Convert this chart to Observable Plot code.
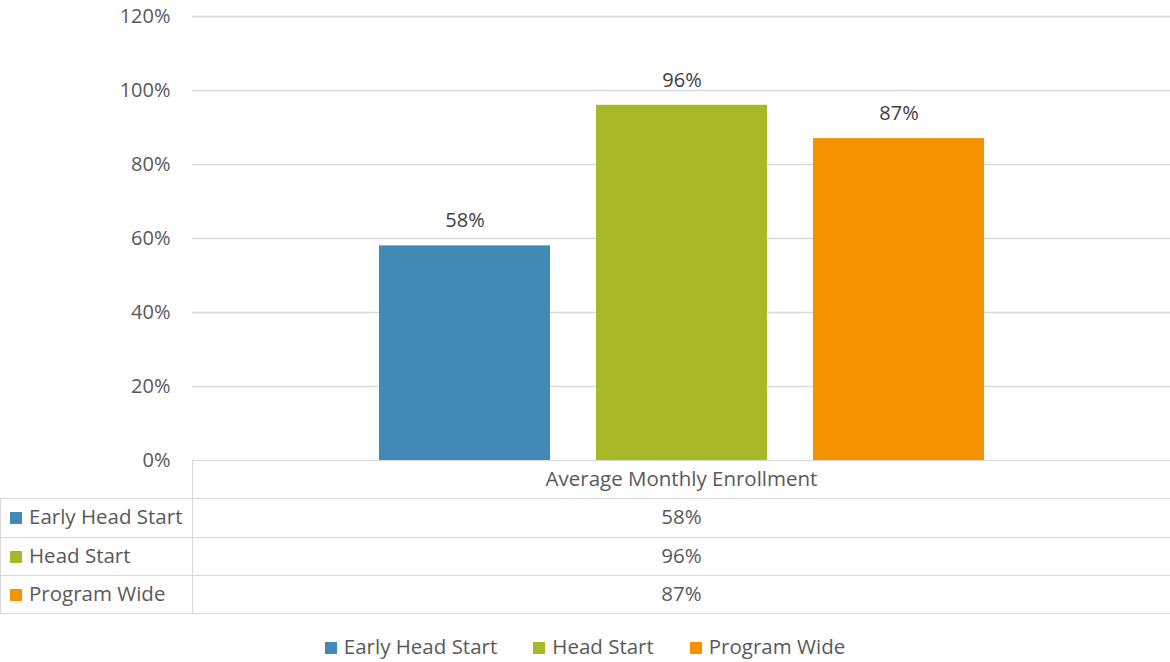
<!DOCTYPE html>
<html>
<head>
<meta charset="utf-8">
<script src="https://cdn.jsdelivr.net/npm/d3@7"></script>
<script src="https://cdn.jsdelivr.net/npm/@observablehq/plot@0.6"></script>
<style>
  body { margin:0; background:#fff; font-family:"Open Sans", sans-serif; color:#595959; }
  #wrap { width:1170px; height:662px; position:relative; overflow:hidden; }
  table.dt { border-collapse:collapse; table-layout:fixed; width:1170px; margin-top:-20px; position:relative; font-size:20.5px; }
  table.dt td { border:1.5px solid #d9d9d9; height:38.3px; padding:0 0 3px 0; text-align:center; white-space:nowrap; line-height:24px; box-sizing:border-box; }
  table.dt td.lab { text-align:left; padding-left:9px; }
  table.dt td.empty { border-top:none; border-left:none; }
  .sw { display:inline-block; width:12px; height:12px; margin-right:7px; vertical-align:0px; }
  .legend { display:flex; justify-content:center; gap:36px; margin-top:22px; font-size:20.5px; line-height:20px; }
  .legend span.item { white-space:nowrap; }
</style>
</head>
<body>
<div id="wrap"></div>
<script>
const series = ["Early Head Start", "Head Start", "Program Wide"];
const values = [0.58, 0.96, 0.87];
const colors = ["#428AB5", "#A7B929", "#F59200"];
const category = "Average Monthly Enrollment";
const yTicks = [0, 0.2, 0.4, 0.6, 0.8, 1.0, 1.2];

const pct = d => Math.round(d * 100) + "%";
const data = series.map((s, i) => ({series: s, value: values[i]}));

const chart = Plot.plot({
  width: 1170,
  height: 480,
  marginTop: 16,
  marginBottom: 20,
  marginLeft: 192,
  marginRight: 0,
  style: {fontFamily: "'Open Sans', sans-serif", fontSize: "20px", color: "#595959", overflow: "visible", background: "transparent"},
  x: {domain: series, paddingInner: 0.212, paddingOuter: 0.859, axis: null, label: null},
  y: {domain: [0, 1.2], axis: null, label: null},
  color: {domain: series, range: colors},
  marks: [
    Plot.ruleY(yTicks.filter(d => d > 0), {stroke: "#d9d9d9", strokeWidth: 1.5}),
    Plot.axisY({ticks: yTicks, tickFormat: pct, tickSize: 0, tickPadding: 22, fontSize: 20, fill: "#595959", label: null}),
    Plot.barY(data, {x: "series", y: "value", fill: "series"}),
    Plot.text(data, {x: "series", y: "value", text: d => pct(d.value), dy: -25, fill: "#404040", fontSize: 20})
  ]
});

const wrap = document.getElementById("wrap");
wrap.appendChild(chart);

// data table
const table = d3.select(wrap).append("table").attr("class", "dt");
const cg = table.append("colgroup");
cg.append("col").style("width", "192px");
cg.append("col").style("width", "978px");
const hr = table.append("tr");
hr.append("td").attr("class", "empty");
hr.append("td").text(category);
series.forEach((s, i) => {
  const tr = table.append("tr");
  const td = tr.append("td").attr("class", "lab");
  td.append("span").attr("class", "sw").style("background", colors[i]);
  td.append("span").text(s);
  tr.append("td").text(pct(values[i]));
});

// legend
const leg = d3.select(wrap).append("div").attr("class", "legend");
series.forEach((s, i) => {
  const it = leg.append("span").attr("class", "item");
  it.append("span").attr("class", "sw").style("background", colors[i]);
  it.append("span").text(s);
});
</script>
</body>
</html>
